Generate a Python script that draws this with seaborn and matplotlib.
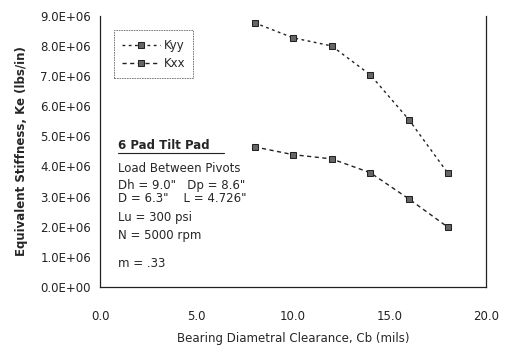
import matplotlib
matplotlib.use("Agg")
import matplotlib.pyplot as plt
import seaborn as sns
import pandas as pd

clearance = [8.0, 10.0, 12.0, 14.0, 16.0, 18.0]
kyy = [8.77e6, 8.27e6, 8.0e6, 7.04e6, 5.55e6, 3.79e6]
kxx = [4.65e6, 4.39e6, 4.25e6, 3.79e6, 2.92e6, 1.99e6]
series_names = ["Kyy", "Kxx"]
yticks = [0, 1e6, 2e6, 3e6, 4e6, 5e6, 6e6, 7e6, 8e6, 9e6]
ytick_labels = ["0.0E+00", "1.0E+06", "2.0E+06", "3.0E+06", "4.0E+06",
                "5.0E+06", "6.0E+06", "7.0E+06", "8.0E+06", "9.0E+06"]
xticks = [0.0, 5.0, 10.0, 15.0, 20.0]
xtick_labels = ["0.0", "5.0", "10.0", "15.0", "20.0"]
note_title = "6 Pad Tilt Pad"
notes = ["Load Between Pivots", "Dh = 9.0\"   Dp = 8.6\"",
         "D = 6.3\"    L = 4.726\"", "Lu = 300 psi", "N = 5000 rpm", "m = .33"]

df = pd.DataFrame({
    "Cb": clearance * 2,
    "Ke": kyy + kxx,
    "series": [series_names[0]] * len(kyy) + [series_names[1]] * len(kxx),
})

sns.set_style("white")
plt.rcParams["font.family"] = ["DejaVu Sans"]

FS = 8.5
fig = plt.figure(figsize=(5.08, 3.52), dpi=100)
ax = fig.add_axes([0.197, 0.185, 0.76, 0.77])

sns.lineplot(data=df, x="Cb", y="Ke", hue="series", style="series",
             palette={"Kyy": "#222222", "Kxx": "#222222"},
             markers={"Kyy": "s", "Kxx": "s"},
             dashes={"Kyy": (2, 2.5), "Kxx": (3, 2.5)},
             markersize=4.5, markerfacecolor="#666666", markeredgecolor="#222222",
             linewidth=1.0, ax=ax, legend=True)

ax.set_xlim(0, 20)
ax.set_ylim(0, 9e6)
ax.set_xticks(xticks)
ax.set_xticklabels(xtick_labels, fontsize=FS)
ax.set_yticks(yticks)
ax.set_yticklabels(ytick_labels, fontsize=FS)
ax.tick_params(axis="y", direction="inout", length=5, width=0.8, colors="#222222", pad=4)
ax.tick_params(axis="x", length=0, pad=17, colors="#222222")
ax.set_xlabel("Bearing Diametral Clearance, Cb (mils)", fontsize=FS, labelpad=6)
ax.set_ylabel("Equivalent Stiffness, Ke (lbs/in)", fontsize=FS, fontweight="bold", labelpad=9)

for s in ["left", "bottom", "right"]:
    ax.spines[s].set_color("#222222")
    ax.spines[s].set_linewidth(0.9)
ax.spines["left"].set_linestyle((0, (2, 1)))
ax.spines["right"].set_linestyle((0, (2, 1)))
ax.spines["top"].set_visible(False)

leg = ax.legend(loc="upper left", bbox_to_anchor=(0.03, 0.955), fontsize=FS,
                frameon=True, handlelength=3.2, borderpad=0.4, labelspacing=0.45,
                handletextpad=0.3)
leg.get_frame().set_edgecolor("#444444")
leg.get_frame().set_linewidth(0.6)
leg.get_frame().set_linestyle((0, (2, 1)))
leg.get_frame().set_boxstyle("square")

# annotation block (positions are layout only)
tx = 0.93
ax.text(tx, 4.7e6, note_title, fontsize=FS, fontweight="bold", va="center", ha="left")
ax.plot([tx, 6.4], [4.44e6, 4.44e6], color="#222222", lw=0.8)
note_y = [3.94e6, 3.36e6, 2.92e6, 2.32e6, 1.72e6, 0.79e6]
for t, yy in zip(notes, note_y):
    ax.text(tx, yy, t, fontsize=FS, va="center", ha="left")

fig.savefig("out.png", dpi=100)
